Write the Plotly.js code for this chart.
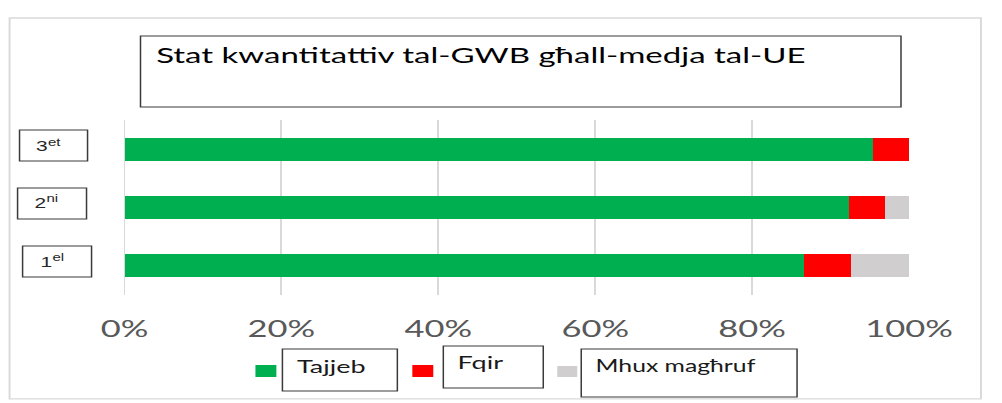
<!DOCTYPE html>
<html>
<head>
<meta charset="utf-8">
<script src="https://cdn.plot.ly/plotly-3.0.1.min.js"></script>
<style>
  html, body { margin: 0; padding: 0; background: #ffffff; overflow: hidden; }
  /* the reference picture is a horizontally stretched rendering */
  #chart { width: 668px; height: 403px; transform: scaleX(1.5); transform-origin: 0 0; }
</style>
</head>
<body>
<div id="chart"></div>
<script>
// ---- data ----
const categories = ['1el', '2ni', '3et'];
const categoryNumbers = ['1', '2', '3'];
const categorySuffixes = ['el', 'ni', 'et'];
const seriesNames = ['Tajjeb', 'Fqir', 'Mhux magħruf'];
const tajjeb = [86.6, 92.4, 95.4];
const fqir = [6.0, 4.6, 4.6];
const mhux = [7.4, 3.0, 0.0];
const tickVals = [0, 20, 40, 60, 80, 100];
const tickText = ['0%', '20%', '40%', '60%', '80%', '100%'];
const titleText = 'Stat kwantitattiv tal-GWB għall-medja tal-UE';
const colors = ['#00B050', '#FF0000', '#D0CECE'];

// ---- traces ----
const seriesValues = [tajjeb, fqir, mhux];
const traces = seriesValues.map((vals, i) => ({
  type: 'bar',
  orientation: 'h',
  name: seriesNames[i],
  y: categories,
  x: vals,
  marker: { color: colors[i], line: { width: 0 } },
  hoverinfo: 'skip'
}));

// ---- decoration geometry (paper coordinates) ----
const boxLine = { color: '#3a3a3a', width: 1 };
const shapes = [];
const annotations = [];

// outer frame
shapes.push({ type: 'rect', xref: 'paper', yref: 'paper', x0: -0.1465, x1: 1.0917, y0: -0.594, y1: 1.583,
  line: { color: '#D9D9D9', width: 1.3 }, fillcolor: 'rgba(0,0,0,0)', layer: 'below' });

// title box + text
shapes.push({ type: 'rect', xref: 'paper', yref: 'paper', x0: 0.0204, x1: 0.9898, y0: 1.0743, y1: 1.48,
  line: boxLine, fillcolor: 'rgba(0,0,0,0)' });
annotations.push({ xref: 'paper', yref: 'paper', x: 0.036, y: 1.374, xanchor: 'left', yanchor: 'middle',
  text: titleText, showarrow: false, font: { family: 'Lato', size: 22, color: '#000000' } });

// category label boxes (number + raised suffix)
const catBoxes = [
  { x0: -0.1299, x1: -0.0420, y0: 0.1029, y1: 0.28, tx: -0.1115, ty: 0.191 },
  { x0: -0.1363, x1: -0.0484, y0: 0.4343, y1: 0.6114, tx: -0.1185, ty: 0.526 },
  { x0: -0.1338, x1: -0.0471, y0: 0.7657, y1: 0.9429, tx: -0.1160, ty: 0.849 }
];
catBoxes.forEach((b, i) => {
  shapes.push({ type: 'rect', xref: 'paper', yref: 'paper', x0: b.x0, x1: b.x1, y0: b.y0, y1: b.y1,
    line: boxLine, fillcolor: 'rgba(0,0,0,0)' });
  annotations.push({ xref: 'paper', yref: 'paper', x: b.tx, y: b.ty, xanchor: 'left', yanchor: 'middle',
    text: categoryNumbers[i], showarrow: false,
    font: { family: 'Liberation Sans', size: 14, color: '#262626' } });
  annotations.push({ xref: 'paper', yref: 'paper', x: b.tx + 0.0152, y: b.ty + 0.024, xanchor: 'left', yanchor: 'middle',
    text: categorySuffixes[i], showarrow: false,
    font: { family: 'Liberation Sans', size: 10, color: '#262626' } });
});

// legend: squares, boxes, texts
const legendItems = [
  { sq: [0.1669, 0.1936, -0.4686, -0.4], box: [0.2013, 0.3478, -0.5486, -0.3086], tx: 0.2165, ty: -0.408, size: 18 },
  { sq: [0.3669, 0.3936, -0.4686, -0.4], box: [0.4064, 0.5338, -0.5314, -0.2914], tx: 0.4215, ty: -0.385, size: 18 },
  { sq: [0.5516, 0.5771, -0.4686, -0.4057], box: [0.5822, 0.8573, -0.5829, -0.3086], tx: 0.5975, ty: -0.408, size: 16.5 }
];
legendItems.forEach((it, i) => {
  shapes.push({ type: 'rect', xref: 'paper', yref: 'paper', x0: it.sq[0], x1: it.sq[1], y0: it.sq[2], y1: it.sq[3],
    line: { width: 0 }, fillcolor: colors[i] });
  shapes.push({ type: 'rect', xref: 'paper', yref: 'paper', x0: it.box[0], x1: it.box[1], y0: it.box[2], y1: it.box[3],
    line: boxLine, fillcolor: 'rgba(0,0,0,0)' });
  annotations.push({ xref: 'paper', yref: 'paper', x: it.tx, y: it.ty, xanchor: 'left', yanchor: 'middle',
    text: seriesNames[i], showarrow: false, font: { family: 'Lato', size: it.size, color: '#1a1a1a' } });
});

const layout = {
  width: 668,
  height: 403,
  margin: { l: 82.67, r: 62, t: 120, b: 108, pad: 0 },
  paper_bgcolor: '#ffffff',
  plot_bgcolor: '#ffffff',
  barmode: 'stack',
  bargap: 0.61,
  showlegend: false,
  xaxis: {
    range: [0, 100],
    tickmode: 'array',
    tickvals: tickVals,
    ticktext: tickText,
    showgrid: true,
    gridcolor: '#D9D9D9',
    gridwidth: 1.3,
    zeroline: true,
    zerolinecolor: '#D9D9D9',
    zerolinewidth: 1.3,
    showline: false,
    ticks: 'outside',
    ticklen: 13,
    tickcolor: 'rgba(0,0,0,0)',
    tickfont: { family: 'Lato', size: 23, color: '#595959' },
    fixedrange: true
  },
  yaxis: {
    type: 'category',
    categoryorder: 'array',
    categoryarray: categories,
    showticklabels: false,
    showgrid: false,
    zeroline: false,
    showline: false,
    ticks: '',
    fixedrange: true
  },
  shapes: shapes,
  annotations: annotations
};

Plotly.newPlot('chart', traces, layout, { displayModeBar: false, staticPlot: true });
</script>
</body>
</html>
